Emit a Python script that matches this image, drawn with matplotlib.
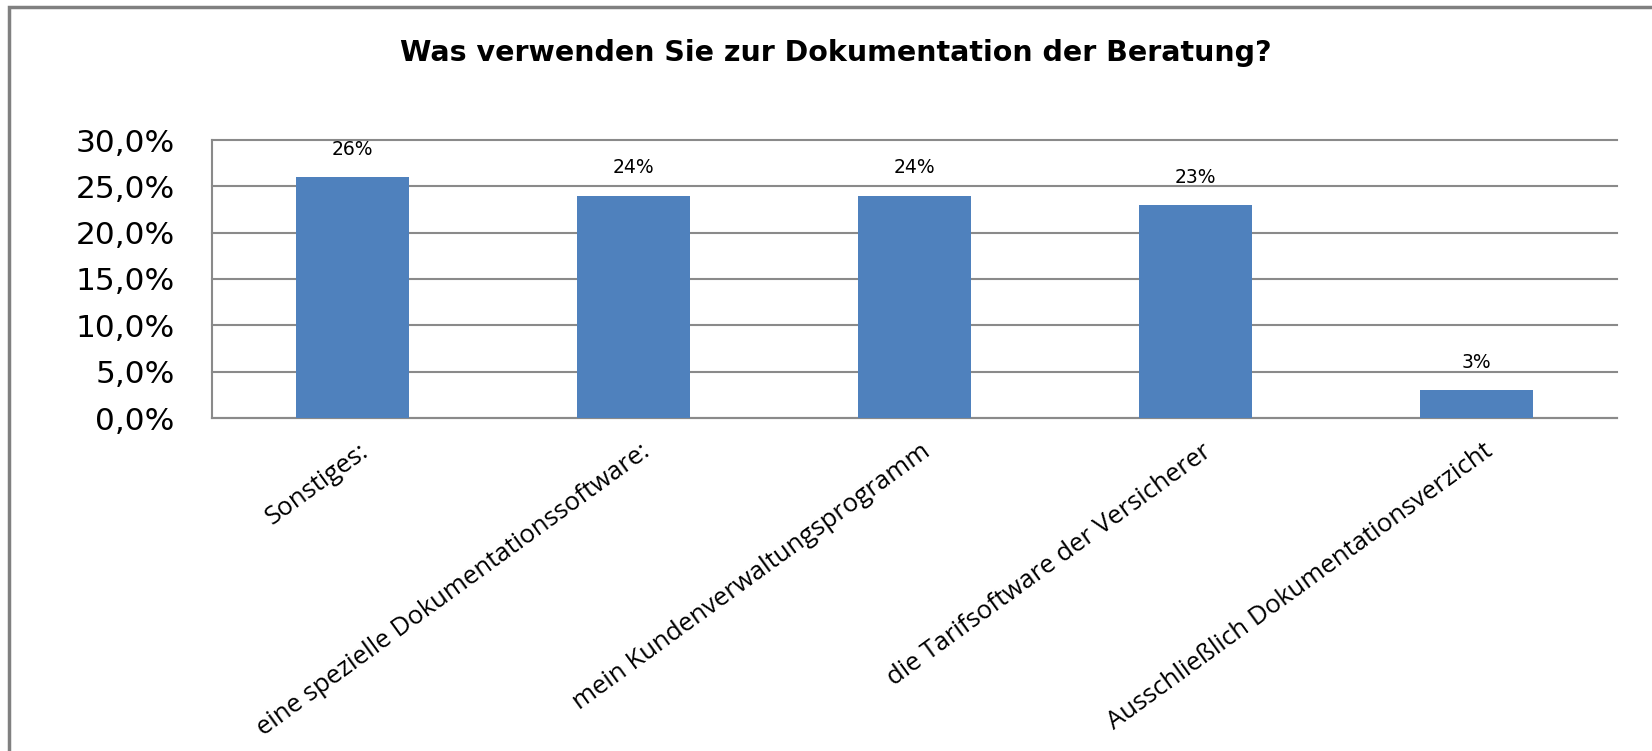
import matplotlib
matplotlib.use("Agg")
import matplotlib.pyplot as plt
import matplotlib.transforms as mtransforms
from matplotlib.patches import Rectangle

# chart data
categories = ["Sonstiges:", "eine spezielle Dokumentationssoftware:",
              "mein Kundenverwaltungsprogramm", "die Tarifsoftware der Versicherer",
              "Ausschließlich Dokumentationsverzicht"]
shares = [26, 24, 24, 23, 3]
yticks = [0, 5, 10, 15, 20, 25, 30]
ytick_labels = ["0,0%", "5,0%", "10,0%", "15,0%", "20,0%", "25,0%", "30,0%"]
title = "Was verwenden Sie zur Dokumentation der Beratung?"

W, H = 1652, 751
fig = plt.figure(figsize=(W / 100, H / 100), dpi=100)
fig.patch.set_facecolor("white")

# outer chart border (right/bottom edges fall outside the image)
fig.add_artist(Rectangle((9 / W, -0.05), 1.2, 1 - 7 / H + 0.05, transform=fig.transFigure,
                         fill=False, edgecolor="#808080", linewidth=2.5))

# plot area in pixel coords
left, right, top, bottom = 212, 1617, 140, 418
ax = fig.add_axes([left / W, 1 - bottom / H, (right - left) / W, (bottom - top) / H])

x = range(len(categories))
ax.bar(x, shares, width=0.4, color="#4F81BD", zorder=3)
ax.set_xlim(-0.5, len(categories) - 0.5)
ax.set_ylim(0, 30)

ax.set_yticks(yticks)
ax.set_yticklabels(ytick_labels, fontsize=22.5, family="DejaVu Sans")
ax.tick_params(axis="y", length=0, pad=27)
ax.yaxis.grid(True, color="#8a8a8a", linewidth=1.5, zorder=0)
for gl in ax.get_ygridlines():
    gl.set_clip_on(False)
ax.tick_params(axis="x", length=0)

for s in ["top", "right"]:
    ax.spines[s].set_visible(False)
for s in ["left", "bottom"]:
    ax.spines[s].set_color("#8a8a8a")
    ax.spines[s].set_linewidth(1.5)

# rotated category labels
ax.set_xticks(list(x))
ax.set_xticklabels(categories, rotation=36, ha="right", rotation_mode="anchor",
                   fontsize=18.5, family="Open Sans")
offset = mtransforms.ScaledTranslation(6 / 100, -16 / 100, fig.dpi_scale_trans)
for lab in ax.get_xticklabels():
    lab.set_transform(lab.get_transform() + offset)

# value labels above the bars
for xi, v in zip(x, shares):
    ax.annotate(f"{v}%", (xi, v), xytext=(0, 20), textcoords="offset points",
                ha="center", va="center", fontsize=13.5, family="DejaVu Sans")

fig.text(836 / W, 1 - 53 / H, title, ha="center", va="center",
         fontsize=20.5, fontweight="bold", family="DejaVu Sans")

fig.savefig("out.png", dpi=100)
